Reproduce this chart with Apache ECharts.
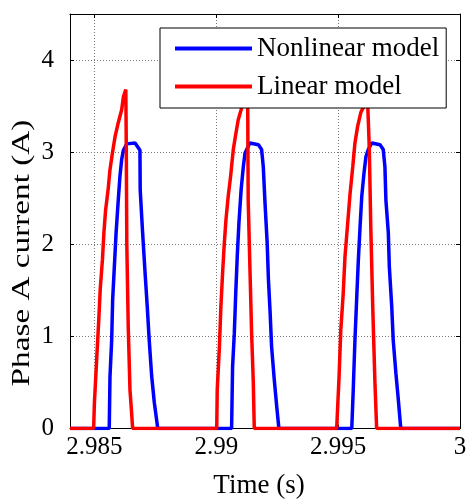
<!DOCTYPE html>
<html>
<head>
<meta charset="utf-8">
<script src="https://cdn.jsdelivr.net/npm/echarts@6/dist/echarts.min.js"></script>
<style>
  html, body { margin: 0; padding: 0; background: #fff; }
  #main { width: 466px; height: 500px; }
</style>
</head>
<body>
<div id="main"></div>
<script>
// series names
var seriesNames = ['Nonlinear model', 'Linear model'];

// nonlinear model (blue) - time (s) and current (A)
var nonlinearTime = [2.984,
  2.98561, 2.98564, 2.98571, 2.98575, 2.98582, 2.98589, 2.98598, 2.98605, 2.98612, 2.98619, 2.98633,
  2.98639, 2.98667, 2.98687, 2.98688, 2.98698, 2.98708, 2.98717, 2.98725, 2.98735, 2.98746, 2.98756, 2.98760,
  2.99063, 2.99067, 2.99074, 2.99080, 2.99086, 2.99093, 2.99102, 2.99111, 2.99118, 2.99138,
  2.99173, 2.99186, 2.99193, 2.99200, 2.99209, 2.99214, 2.99221, 2.99227, 2.99238, 2.99248, 2.99257,
  2.99556, 2.99562, 2.99569, 2.99576, 2.99583, 2.99590, 2.99597, 2.99606, 2.99614, 2.99624, 2.99638,
  2.99672, 2.99685, 2.99692, 2.99696, 2.99706, 2.99710, 2.99720, 2.99726, 2.99737, 2.99747, 2.99757,
  3.0];
var nonlinearCurrent = [0,
  0, 0.56, 0.96, 1.40, 1.76, 2.12, 2.48, 2.74, 2.92, 3.02, 3.09,
  3.10, 3.10, 3.02, 2.59, 2.12, 1.69, 1.32, 0.96, 0.57, 0.28, 0.08, 0,
  0, 0.67, 1.03, 1.47, 1.86, 2.23, 2.59, 2.84, 2.99, 3.10,
  3.08, 3.03, 2.84, 2.45, 2.01, 1.62, 1.26, 0.89, 0.53, 0.24, 0,
  0, 0.42, 0.96, 1.40, 1.83, 2.19, 2.52, 2.77, 2.95, 3.03, 3.10,
  3.08, 3.03, 2.84, 2.48, 2.12, 1.76, 1.32, 0.96, 0.60, 0.31, 0,
  0];

// linear model (red)
var linearTime = [2.984,
  2.98497, 2.98500, 2.98510, 2.98518, 2.98524, 2.98533, 2.98539, 2.98546, 2.98557, 2.98564, 2.98574,
  2.98585, 2.98598, 2.98612, 2.98619, 2.98629, 2.98631, 2.98633, 2.98639, 2.98646, 2.98652, 2.98657,
  2.99002, 2.99004, 2.99013, 2.99019, 2.99026, 2.99033, 2.99040, 2.99049, 2.99059, 2.99070, 2.99081,
  2.99090, 2.99102, 2.99114, 2.99127, 2.99129, 2.99131, 2.99138, 2.99145, 2.99152, 2.99156,
  2.99494, 2.99504, 2.99511, 2.99521, 2.99528, 2.99538, 2.99549, 2.99560, 2.99569, 2.99580,
  2.99593, 2.99606, 2.99616, 2.99621, 2.99628, 2.99634, 2.99642, 2.99651, 2.99658,
  3.0];
var linearCurrent = [0,
  0, 0.27, 0.78, 1.18, 1.51, 1.83, 2.12, 2.37, 2.61, 2.81, 2.99,
  3.17, 3.32, 3.46, 3.60, 3.68, 3.02, 2.01, 1.10, 0.42, 0.20, 0,
  0, 0.42, 0.89, 1.32, 1.69, 2.01, 2.27, 2.52, 2.74, 3.03, 3.21,
  3.35, 3.46, 3.58, 3.68, 3.57, 2.48, 1.76, 1.04, 0.50, 0,
  0, 0.57, 1.07, 1.47, 1.86, 2.19, 2.55, 2.84, 3.10, 3.28,
  3.43, 3.50, 3.62, 3.55, 3.03, 2.19, 1.32, 0.50, 0,
  0];

function pairs(xs, ys) {
    var out = [];
    for (var i = 0; i < xs.length; i++) {
        out.push([xs[i], ys[i]]);
    }
    return out;
}

var font = 'Liberation Serif';

var option = {
    backgroundColor: '#fff',
    animation: false,
    grid: { left: 70, right: 6, top: 14, bottom: 71.5, outerBoundsMode: 'none', containLabel: false },
    legend: {
        data: seriesNames,
        orient: 'vertical',
        left: 160,
        top: 28,
        icon: 'rect',
        itemWidth: 77,
        itemHeight: 4,
        itemGap: 11,
        padding: [7, 7, 8, 15],
        borderColor: '#000',
        borderWidth: 1,
        backgroundColor: '#fff',
        textStyle: { fontFamily: font, fontSize: 27, lineHeight: 27, color: '#000' }
    },
    // y axis title, stretched along its length like the exported figure
    graphic: [{
        type: 'text',
        x: 22,
        y: 253,
        rotation: Math.PI / 2,
        scaleX: 1.33,
        style: {
            text: 'Phase A current (A)',
            font: '25px "Liberation Serif"',
            fill: '#000',
            align: 'center',
            verticalAlign: 'middle'
        }
    }],
    xAxis: [
        {
            type: 'value',
            min: 2.984,
            max: 3.0,
            splitNumber: 3,
            minInterval: 0.005,
            maxInterval: 0.005,
            name: 'Time (s)',
            nameLocation: 'middle',
            nameGap: 44,
            nameTextStyle: { fontFamily: font, fontSize: 27, color: '#000', padding: [0, 12, 0, 0] },
            axisLine: { show: true, onZero: false, lineStyle: { color: '#000', width: 1 } },
            axisTick: { show: true, inside: true, length: 4, lineStyle: { color: '#000' } },
            axisLabel: { showMinLabel: false, margin: 6, fontFamily: font, fontSize: 25, color: '#000' },
            splitLine: { show: true, lineStyle: { color: '#777', type: [1, 2], width: 1 } }
        },
        {
            type: 'value',
            position: 'top',
            min: 2.984,
            max: 3.0,
            splitNumber: 3,
            minInterval: 0.005,
            maxInterval: 0.005,
            axisLine: { show: true, onZero: false, lineStyle: { color: '#000', width: 1 } },
            axisTick: { show: true, inside: true, length: 4, lineStyle: { color: '#000' } },
            axisLabel: { show: false },
            splitLine: { show: false }
        }
    ],
    yAxis: [
        {
            type: 'value',
            min: 0,
            max: 4.5,
            interval: 1,
            axisLine: { show: true, onZero: false, lineStyle: { color: '#000', width: 1 } },
            axisTick: { show: true, inside: true, length: 4, lineStyle: { color: '#000' } },
            axisLabel: { showMaxLabel: false, margin: 16, fontFamily: font, fontSize: 25, color: '#000' },
            splitLine: { show: true, lineStyle: { color: '#777', type: [1, 2], width: 1 } }
        },
        {
            type: 'value',
            position: 'right',
            min: 0,
            max: 4.5,
            interval: 1,
            axisLine: { show: true, onZero: false, lineStyle: { color: '#000', width: 1 } },
            axisTick: { show: true, inside: true, length: 4, lineStyle: { color: '#000' } },
            axisLabel: { show: false },
            splitLine: { show: false }
        }
    ],
    series: [
        {
            name: seriesNames[0],
            type: 'line',
            data: pairs(nonlinearTime, nonlinearCurrent),
            symbol: 'none',
            itemStyle: { color: '#0000ff' },
            lineStyle: { color: '#0000ff', width: 3.5 }
        },
        {
            name: seriesNames[1],
            type: 'line',
            data: pairs(linearTime, linearCurrent),
            symbol: 'none',
            itemStyle: { color: '#ff0000' },
            lineStyle: { color: '#ff0000', width: 3.5 }
        }
    ]
};

var chart = echarts.init(document.getElementById('main'));
chart.setOption(option);
</script>
</body>
</html>
